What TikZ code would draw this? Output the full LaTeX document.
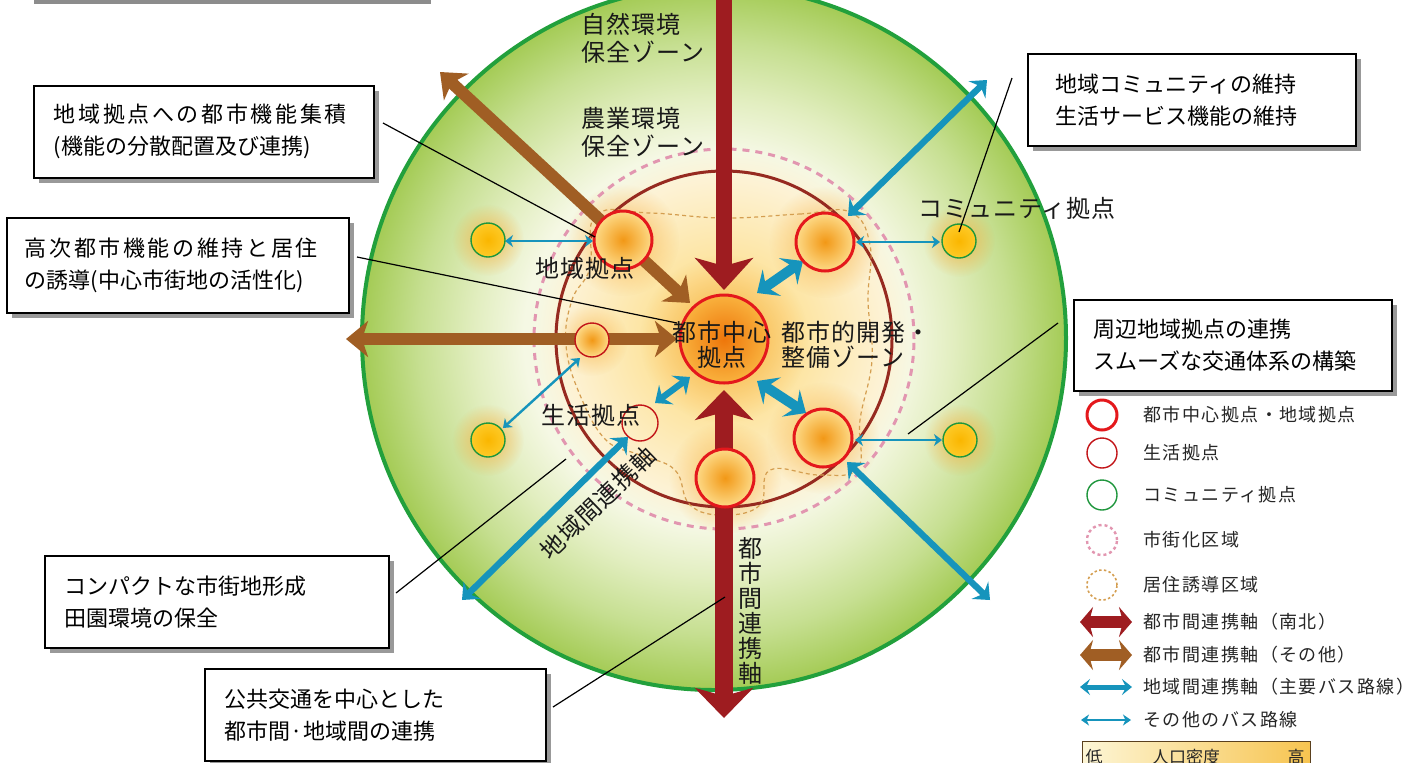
\documentclass[tikz,border=0pt]{standalone}
\usepackage{fontspec}
\setmainfont{Noto Sans CJK JP}
\newfontfamily\jplab[LetterSpace=4]{Noto Sans CJK JP}
\newfontfamily\jpplain{Noto Sans CJK JP}
\newfontfamily\jpboxw[LetterSpace=12]{Noto Sans CJK JP}
\newfontfamily\jpleg[LetterSpace=8]{Noto Sans CJK JP}
\usetikzlibrary{arrows.meta,shadows,fadings}

\definecolor{dred}{RGB}{158,28,32}
\definecolor{brn}{RGB}{160,94,36}
\definecolor{tealax}{RGB}{22,148,188}
\definecolor{gline}{RGB}{34,160,60}
\definecolor{gedge}{RGB}{164,203,85}
\definecolor{gB}{RGB}{198,223,145}
\definecolor{gA}{RGB}{226,238,192}
\definecolor{gpale}{RGB}{245,248,228}
\definecolor{ycen}{RGB}{251,208,115}
\definecolor{ymid}{RGB}{253,228,160}
\definecolor{ypale}{RGB}{253,242,212}
\definecolor{pinkd}{RGB}{226,150,176}
\definecolor{drc}{RGB}{150,42,32}
\definecolor{ordash}{RGB}{212,158,80}
\definecolor{nred}{RGB}{228,24,28}
\definecolor{norg}{RGB}{242,152,22}
\definecolor{nyel}{RGB}{253,218,135}
\definecolor{corg}{RGB}{238,118,10}
\definecolor{cedge}{RGB}{249,178,62}
\definecolor{cyel}{RGB}{250,182,0}
\definecolor{cyel2}{RGB}{253,202,40}
\definecolor{cgreen}{RGB}{30,150,60}
\definecolor{glowc}{RGB}{248,168,45}
\definecolor{barL}{RGB}{253,246,214}
\definecolor{barR}{RGB}{247,196,80}
\definecolor{barE}{RGB}{90,64,30}

\pgfdeclareradialshading{diskshade}{\pgfpoint{0bp}{0bp}}{color(0bp)=(gpale); color(13.5bp)=(gpale); color(17bp)=(gA); color(21bp)=(gB); color(25bp)=(gedge); color(50bp)=(gedge)}
\pgfdeclareradialshading{innershade}{\pgfpoint{0bp}{0bp}}{color(0bp)=(ycen); color(10bp)=(ymid); color(21bp)=(ypale); color(25bp)=(gpale); color(50bp)=(gpale)}
\pgfdeclareradialshading{regshade}{\pgfpoint{0bp}{0bp}}{color(0bp)=(norg); color(25bp)=(nyel); color(50bp)=(nyel)}
\pgfdeclareradialshading{ctrshade}{\pgfpoint{0bp}{0bp}}{color(0bp)=(corg); color(25bp)=(cedge); color(50bp)=(cedge)}
\pgfdeclareradialshading{comshade}{\pgfpoint{0bp}{0bp}}{color(0bp)=(cyel); color(25bp)=(cyel2); color(50bp)=(cyel2)}
\tikzfading[name=glowfade, inner color=transparent!0, outer color=transparent!100]

\tikzset{
  regnode/.style={circle, inner sep=0pt, minimum size=29pt, draw=nred, line width=1.5pt, shade, shading=regshade},
  ctrnode/.style={circle, inner sep=0pt, minimum size=44pt, draw=nred, line width=1.5pt, shade, shading=ctrshade},
  lifenode/.style={circle, inner sep=0pt, minimum size=17pt, draw=nred!85!black, line width=0.7pt, shade, shading=regshade},
  lifeopen/.style={circle, inner sep=0pt, minimum size=18pt, draw=nred!85!black, line width=0.7pt},
  comnode/.style={circle, inner sep=0pt, minimum size=17pt, draw=cgreen, line width=0.7pt, shade, shading=comshade},
  glow/.style={fill=glowc, path fading=glowfade},
  nsend/.style={draw=dred, line width=8pt, -{Stealth[length=16pt,width=29pt,inset=4pt]}},
  nsboth/.style={draw=dred, line width=9pt, {Stealth[length=15pt,width=29pt,inset=4pt]}-{Stealth[length=15pt,width=29pt,inset=4pt]}},
  brboth/.style={draw=brn, line width=6pt, {Stealth[length=11pt,width=18pt,inset=3pt]}-{Stealth[length=11pt,width=18pt,inset=3pt]}},
  tmain/.style={draw=tealax, line width=3.2pt, {Stealth[length=7pt,width=12pt,inset=2.5pt]}-{Stealth[length=7pt,width=12pt,inset=2.5pt]}},
  tbold/.style={draw=tealax, line width=5pt, {Stealth[length=9pt,width=16pt,inset=3.5pt]}-{Stealth[length=9pt,width=16pt,inset=3.5pt]}},
  tthin/.style={draw=tealax, line width=1.2pt, {Stealth[length=4pt,width=6pt,inset=1.2pt]}-{Stealth[length=4pt,width=6pt,inset=1.2pt]}},
  leader/.style={draw=black, line width=0.6pt},
  tbox/.style={rectangle, draw=black, line width=0.8pt, fill=white, inner xsep=10pt, inner ysep=0pt, align=left, minimum height=46pt, anchor=north west, drop shadow={shadow xshift=2.5pt, shadow yshift=-2.5pt, fill=black!40, opacity=1}, font=\jpplain\fontsize{11pt}{16pt}\selectfont},
  lab/.style={inner sep=0pt, text=black!90, font=\jplab\fontsize{12pt}{14pt}\selectfont},
  lgc/.style={circle, inner sep=0pt, minimum size=15pt},
  legt/.style={anchor=west, inner sep=0pt, text=black!85, font=\jpleg\fontsize{9pt}{10pt}\selectfont},
  lgns/.style={draw=dred, line width=6pt, {Stealth[length=6.5pt,width=15pt,inset=2pt]}-{Stealth[length=6.5pt,width=15pt,inset=2pt]}},
  lgbr/.style={draw=brn, line width=6pt, {Stealth[length=6.5pt,width=15pt,inset=2pt]}-{Stealth[length=6.5pt,width=15pt,inset=2pt]}},
  lgtm/.style={draw=tealax, line width=2.5pt, {Stealth[length=5pt,width=8pt,inset=2pt]}-{Stealth[length=5pt,width=8pt,inset=2pt]}},
  lgtt/.style={draw=tealax, line width=1.2pt, {Stealth[length=4pt,width=5.5pt,inset=1.2pt]}-{Stealth[length=4pt,width=5.5pt,inset=1.2pt]}},
  bart/.style={inner sep=0pt, text=black!85, font=\jpplain\fontsize{8.5pt}{9pt}\selectfont}
}

\begin{document}
\begin{tikzpicture}[x=0.5pt,y=-0.5pt]
\useasboundingbox (0,0) rectangle (1424,762);
\clip (0,0) rectangle (1424,762);
\fill[white] (0,0) rectangle (1424,762);
\fill[black!45] (34,0) rectangle (431,4);

% centres
\coordinate (D) at (714,338);
\coordinate (C) at (724,339);
\coordinate (pTL) at (623,240);
\coordinate (pTR) at (825,242);
\coordinate (pBR) at (823,438);
\coordinate (pB) at (725,478);
\coordinate (pL) at (592,340);
\coordinate (pLL) at (640,423);
\coordinate (qTL) at (488,240);
\coordinate (qBL) at (488,440);
\coordinate (qTR) at (959,241);
\coordinate (qBR) at (960,440);

% zones
\shade[shading=diskshade] (D) circle[radius=176pt];
\shade[shading=innershade] (C) circle[radius=95pt];

% glows
\fill[glow, opacity=0.75] (C) circle[radius=42pt];
\foreach \g in {pTL,pTR,pBR,pB}{\fill[glow, opacity=0.7] (\g) circle[radius=28pt];}
\fill[glow, opacity=0.6] (pL) circle[radius=18pt];
\foreach \g in {qTL,qBL,qTR,qBR}{\fill[glow, opacity=0.75] (\g) circle[radius=18pt];}

\draw[pinkd, line width=1.5pt, dash pattern=on 3.5pt off 3pt] (C) circle[radius=95pt];
\draw[drc, line width=1.5pt] (C) circle[radius=84pt];
\draw[ordash, line width=0.6pt, dash pattern=on 2pt off 1.6pt] plot[smooth cycle, tension=0.7] coordinates {(724,218) (800,214) (850,212) (870,245) (868,300) (872,360) (860,420) (858,468) (820,475) (770,470) (760,505) (724,515) (690,505) (675,470) (640,455) (606,440) (580,395) (566,345) (572,300) (590,268) (596,215) (650,213)};
\draw[gline, line width=2pt] (D) circle[radius=176pt];

% axes
\coordinate (a1s) at (724,-20); \coordinate (a1e) at (724,290);
\draw[nsend] (a1s) -- (a1e);
\coordinate (a2s) at (724,390); \coordinate (a2e) at (724,718);
\draw[nsboth] (a2s) -- (a2e);
\coordinate (b1s) at (440,72); \coordinate (b1e) at (690,303);
\draw[brboth] (b1s) -- (b1e);
\coordinate (b2s) at (346,339); \coordinate (b2e) at (677,339);
\draw[brboth] (b2s) -- (b2e);
\coordinate (t1s) at (848,216); \coordinate (t1e) at (987,80);
\draw[tmain] (t1s) -- (t1e);
\coordinate (t2s) at (847,462); \coordinate (t2e) at (990,600);
\draw[tmain] (t2s) -- (t2e);
\coordinate (t3s) at (628,437); \coordinate (t3e) at (462,600);
\draw[tmain] (t3s) -- (t3e);
\coordinate (t4s) at (757,293); \coordinate (t4e) at (803,261);
\draw[tbold] (t4s) -- (t4e);
\coordinate (t5s) at (757,381); \coordinate (t5e) at (806,413);
\draw[tbold] (t5s) -- (t5e);
\coordinate (t6s) at (655,403); \coordinate (t6e) at (690,377);
\draw[tmain] (t6s) -- (t6e);
\coordinate (s1s) at (505,241); \coordinate (s1e) at (593,241);
\draw[tthin] (s1s) -- (s1e);
\coordinate (s2s) at (856,242); \coordinate (s2e) at (940,242);
\draw[tthin] (s2s) -- (s2e);
\coordinate (s3s) at (855,440); \coordinate (s3e) at (942,440);
\draw[tthin] (s3s) -- (s3e);
\coordinate (s4s) at (503,428); \coordinate (s4e) at (580,358);
\draw[tthin] (s4s) -- (s4e);

% nodes
\node[ctrnode] (nC) at (C) {};
\node[regnode] (nTL) at (pTL) {};
\node[regnode] (nTR) at (pTR) {};
\node[regnode] (nBR) at (pBR) {};
\node[regnode] (nB) at (pB) {};
\node[lifenode] (nL) at (pL) {};
\node[lifeopen] (nLL) at (pLL) {};
\node[comnode] (mTL) at (qTL) {};
\node[comnode] (mBL) at (qBL) {};
\node[comnode] (mTR) at (qTR) {};
\node[comnode] (mBR) at (qBR) {};

% labels
\node[lab, anchor=west, align=left] (zn1) at (581,38) {自然環境\\保全ゾーン};
\node[lab, anchor=west, align=left] (zn2) at (581,132) {農業環境\\保全ゾーン};
\node[lab] (lbTL) at (585,268) {地域拠点};
\node[lab] (lbL) at (591,415) {生活拠点};
\node[lab, align=center, font=\jplab\fontsize{12pt}{12.5pt}\selectfont] (lbC) at (722,345) {都市中心\\拠点};
\node[lab, anchor=west, align=left, font=\jplab\fontsize{12pt}{12.5pt}\selectfont] (lbZ) at (781,345) {都市的開発・\\整備ゾーン};
\node[lab, anchor=west] (lbQ) at (918,208) {コミュニティ拠点};
\node[lab, rotate=44] (lbT) at (598,503) {地域間連携軸};
\node[lab, align=center, font=\jpplain\fontsize{12pt}{12.5pt}\selectfont] (lbV) at (750,611) {都\\市\\間\\連\\携\\軸};

% leader lines
\coordinate (L1a) at (383,123); \coordinate (L1b) at (595,237);
\coordinate (L2a) at (357,257); \coordinate (L2b) at (677,323);
\coordinate (L3a) at (1012,78); \coordinate (L3b) at (959,232);
\coordinate (L4a) at (1058,323); \coordinate (L4b) at (908,434);
\coordinate (L5a) at (396,593); \coordinate (L5b) at (566,459);
\coordinate (L6a) at (553,707); \coordinate (L6b) at (725,597);
\draw[leader] (L1a) -- (L1b);
\draw[leader] (L2a) -- (L2b);
\draw[leader] (L3a) -- (L3b);
\draw[leader] (L4a) -- (L4b);
\draw[leader] (L5a) -- (L5b);
\draw[leader] (L6a) -- (L6b);

% boxes
\node[tbox, text width=150pt] (bx1) at (33,85) {{\jpboxw 地域拠点への都市機能集積}\\(機能の分散配置及び連携)};
\node[tbox, text width=153pt, inner xsep=9pt, minimum height=47.5pt] (bx2) at (6,217) {{\jpboxw 高次都市機能の維持と居住}\\の誘導(中心市街地の活性化)};
\node[tbox, text width=152pt] (bx3) at (44,555) {コンパクトな市街地形成\\田園環境の保全};
\node[tbox, text width=150.5pt] (bx4) at (204,668) {公共交通を中心とした\\都市間·地域間の連携};
\node[tbox, text width=136pt, inner xsep=14pt] (bx5) at (1027,53) {地域コミュニティの維持\\生活サービス機能の維持};
\node[tbox, text width=139pt, minimum height=45.5pt] (bx6) at (1073,299) {周辺地域拠点の連携\\スムーズな交通体系の構築};

% legend
\node[lgc, draw=nred, line width=1.5pt] (lg1) at (1102,415) {};
\node[lgc, draw=nred!85!black, line width=0.7pt] (lg2) at (1102,453) {};
\node[lgc, draw=cgreen, line width=0.7pt] (lg3) at (1102,495) {};
\node[lgc, draw=pinkd, line width=1.2pt, dash pattern=on 1.5pt off 1.5pt] (lg4) at (1102,540) {};
\node[lgc, draw=ordash, line width=0.8pt, dash pattern=on 1.2pt off 1.2pt] (lg5) at (1102,585) {};
\coordinate (g6a) at (1080,622); \coordinate (g6b) at (1132,622);
\draw[lgns] (g6a) -- (g6b);
\coordinate (g7a) at (1080,655); \coordinate (g7b) at (1132,655);
\draw[lgbr] (g7a) -- (g7b);
\coordinate (g8a) at (1080,687); \coordinate (g8b) at (1132,687);
\draw[lgtm] (g8a) -- (g8b);
\coordinate (g9a) at (1081,720); \coordinate (g9b) at (1131,720);
\draw[lgtt] (g9a) -- (g9b);
\node[legt] (lt1) at (1143,415) {都市中心拠点・地域拠点};
\node[legt] (lt2) at (1143,453) {生活拠点};
\node[legt] (lt3) at (1143,495) {コミュニティ拠点};
\node[legt] (lt4) at (1143,540) {市街化区域};
\node[legt] (lt5) at (1143,585) {居住誘導区域};
\node[legt] (lt6) at (1143,622) {都市間連携軸（南北）};
\node[legt] (lt7) at (1143,655) {都市間連携軸（その他）};
\node[legt] (lt8) at (1143,687) {地域間連携軸（主要バス路線）};
\node[legt] (lt9) at (1143,720) {その他のバス路線};
\shade[left color=barL, right color=barR, draw=barE, line width=0.5pt] (1082,741) rectangle (1310,775);
\node[bart] (bl) at (1094,757) {低};
\node[bart] (bm) at (1186,757) {人口密度};
\node[bart] (bh) at (1296,757) {高};
\end{tikzpicture}
\end{document}
